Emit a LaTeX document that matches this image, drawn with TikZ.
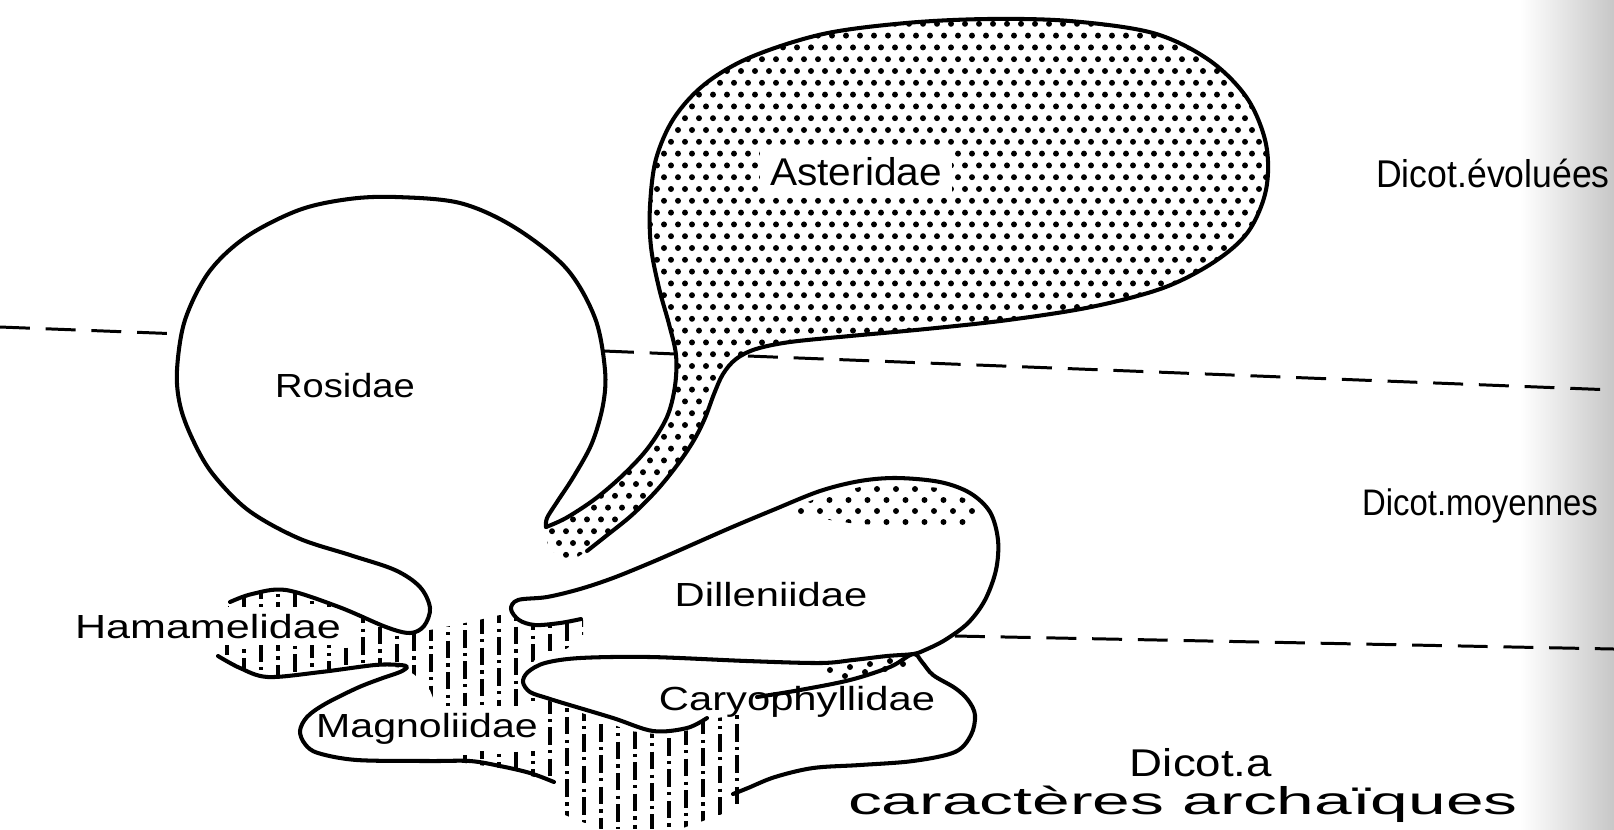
\documentclass[tikz,border=0pt]{standalone}
\usepackage{fontspec}
\setmainfont{Liberation Sans}
\newcommand\hs[2]{\scalebox{#1}[1]{#2}}
\def\ptsRos{(230,602) (252,594) (286,590) (339,607) (386,627) (410,633) (424,626) (430,608) (420,587) (395,570) (350,555) (298,538) (248,510) (212,473) (192,438) (180,405) (177,370) (185,320) (209,272) (246,237) (299,210) (349,199) (396,197) (460,203) (514,227) (566,268) (595,318) (605,370) (603,405) (592,443) (574,476) (557,502) (547,518) (546,527)}
\def\ptsAst{(546,527) (566,518) (595,499) (623,475) (648,448) (667,417) (675,386) (676,355) (669,324) (659,288) (651,247) (650,206) (656,159) (674,118) (705,84) (751,57) (823,34) (906,23) (988,19) (1070,21) (1153,33) (1209,60) (1247,98) (1266,144) (1266,190) (1248,232) (1214,262) (1163,288) (1091,307) (1008,320) (926,329) (850,336) (790,342) (756,349) (736,359) (723,374) (714,394) (705,418) (694,440) (678,464) (657,490) (632,515) (606,536) (587,551)}
\def\ptsDil{(581,619) (560,623) (535,625) (519,620) (511,609) (518,600) (547,597) (580,589) (613,578) (650,563) (680,550) (730,528) (773,510) (820,491) (860,481) (897,478) (940,482) (970,493) (990,512) (998,540) (996,570) (985,600) (968,623) (945,640) (925,650) (913,654) (887,656) (853,660) (820,663) (747,661) (650,657) (580,658) (545,663) (528,672) (523,682) (530,692) (547,698) (563,703) (613,718) (653,731) (687,728) (707,718)}
\def\ptsCar{(757,697) (800,690) (850,680) (890,667) (913,654) (922,662) (933,675) (955,688) (968,700) (975,715) (971,735) (955,752) (913,761) (860,765) (813,768) (775,777) (748,788) (733,794)}
\def\ptsMag{(218,656) (240,668) (268,677) (321,672) (375,665) (400,665) (407,667) (400,672) (380,679) (357,688) (325,704) (307,717) (300,731) (305,744) (318,753) (357,760) (429,761) (470,761) (500,766) (530,773) (554,782)}
\def\drawsm#1{\draw[outline] plot[smooth,tension=0.55] coordinates {#1};}
\def\clipsm#1{\clip plot[smooth,tension=0.55] coordinates {#1} -- (568,563) -- (548,548) -- cycle;}
\begin{document}
\begin{tikzpicture}[x=0.01cm,y=-0.01cm,
  outline/.style={line width=1.15pt, line cap=round, line join=round},
  dashln/.style={line width=0.85pt, dash pattern=on 8.5pt off 4.5pt},
  hatchln/.style={line width=0.95pt, dash pattern=on 5pt off 1.5pt on 0.9pt off 1.5pt},
  lbl/.style={inner sep=0pt, anchor=base},
  wlbl/.style={fill=white, inner sep=2pt, anchor=base},
  dotf/.style={fill=black}]
\useasboundingbox (0,0) rectangle (1614,829);
% scan shadow at the right edge
\shade[left color=white, right color=black!22] (1520,0) rectangle (1614,829);
% dashed level lines
\coordinate (dl0) at (0,327);
\coordinate (dlR) at (182,334);
\coordinate (dm0) at (604,351);
\coordinate (dm1) at (676,354);
\coordinate (dr0) at (748,356);
\coordinate (dr1) at (1614,390);
\coordinate (ds0) at (955,636);
\coordinate (ds1) at (1614,649);
\draw[dashln] (dl0) -- (dlR);
\draw[dashln] (dm0) -- (dm1);
\draw[dashln] (dr0) -- (dr1);
\draw[dashln] (ds0) -- (ds1);
% hatching (Magnoliidae trunk and Hamamelidae)
\begin{scope}
\clip (229,602) -- (252,594) -- (286,590) -- (339,607) -- (386,627) -- (411,634) -- (430,630) -- (470,622) -- (500,615) -- (515,618) -- (535,627) -- (560,625) -- (583,620) -- (583,640) -- (560,652) -- (535,660) -- (520,675) -- (522,690) -- (547,700) -- (590,716) -- (630,731) -- (663,735) -- (690,730) -- (707,720) -- (745,713) -- (746,800) -- (720,815) -- (680,829) -- (600,829) -- (565,815) -- (556,800) -- (554,782) -- (500,768) -- (465,763) -- (445,745) -- (440,715) -- (430,690) -- (415,675) -- (404,668) -- (375,665) -- (321,672) -- (268,677) -- (240,668) -- (218,656) -- cycle;
\foreach \x [count=\i] in {227,244,...,750} {
  \pgfmathsetmacro\ph{mod(\i*3,8)}
  \draw[hatchln, dash phase=\ph pt] (\x,585) -- (\x,829);
}
\end{scope}
% stipple of Asteridae
\begin{scope}
\expandafter\clipsm\expandafter{\ptsAst}
\foreach \r in {0,...,47} {
  \foreach \c in {0,...,52} {
    \fill[dotf] ({538+mod(\r,2)*7+\c*14},{12+\r*11.8}) circle (0.85pt);
  }
}
\end{scope}
% stipple band of Dilleniidae
\begin{scope}
\clip (788,510) -- (820,497) -- (860,487) -- (897,484) -- (940,488) -- (966,499) -- (982,513) -- (975,526) -- (940,530) -- (900,527) -- (850,523) -- (810,517) -- (788,514) -- cycle;
\foreach \r in {0,...,4} {
  \foreach \c in {0,...,12} {
    \fill[dotf] ({782+mod(\r,2)*9.5+\c*19},{489+\r*11}) circle (0.85pt);
  }
}
\end{scope}
% stipple of Caryophyllidae
\foreach \p in {(830,670),(850,667),(870,664),(890,661),(845,676),(865,672),(885,669),(903,664)}
  \fill[dotf] \p circle (0.85pt);
% labels
\node[wlbl, inner xsep=3pt, inner ysep=3pt, font=\fontsize{11}{13}\selectfont] (ast) at (856,185) {\hs{1.05}{Asteridae}};
\node[lbl, font=\fontsize{9.5}{11}\selectfont] (ros) at (345,397) {\hs{1.14}{Rosidae}};
\node[wlbl, font=\fontsize{9.5}{11}\selectfont] (ham) at (208,638) {\hs{1.29}{Hamamelidae}};
\node[wlbl, font=\fontsize{9.5}{11}\selectfont] (mag) at (427,737) {\hs{1.23}{Magnoliidae}};
\node[lbl, font=\fontsize{9.5}{11}\selectfont] (dil) at (771,606) {\hs{1.25}{Dilleniidae}};
\node[lbl, font=\fontsize{9.5}{11}\selectfont] (car) at (797,710) {\hs{1.25}{Caryophyllidae}};
\node[lbl, font=\fontsize{11}{13}\selectfont] (evo) at (1493,187) {\hs{0.92}{Dicot.évoluées}};
\node[lbl, font=\fontsize{10.5}{12}\selectfont] (moy) at (1480,515) {\hs{0.89}{Dicot.moyennes}};
\node[lbl, font=\fontsize{11}{13}\selectfont] (dica) at (1201,776) {\hs{1.18}{Dicot.a}};
\node[lbl, font=\fontsize{11}{13}\selectfont] (carac) at (1183,814) {\hs{1.75}{caractères archaïques}};
% outlines
\expandafter\drawsm\expandafter{\ptsRos}
\expandafter\drawsm\expandafter{\ptsAst}
\expandafter\drawsm\expandafter{\ptsDil}
\expandafter\drawsm\expandafter{\ptsCar}
\expandafter\drawsm\expandafter{\ptsMag}
\end{tikzpicture}
\end{document}
